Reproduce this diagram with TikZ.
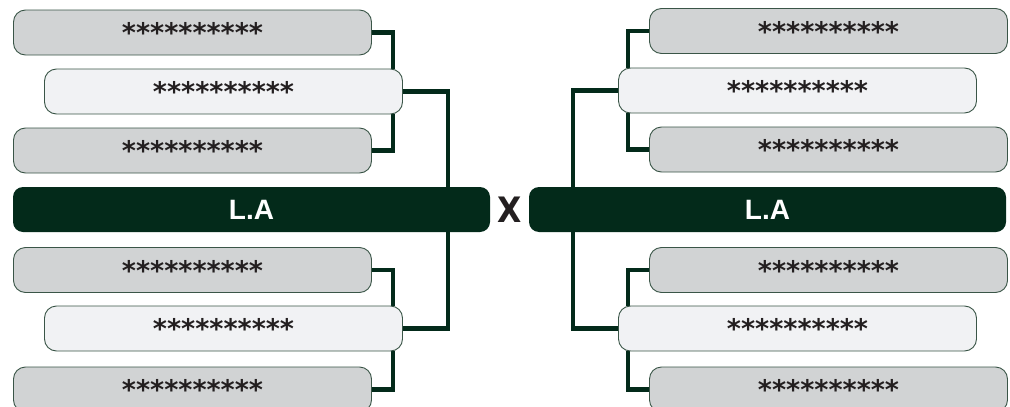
\documentclass[tikz,border=0pt]{standalone}
\usepackage{fontspec}
\usetikzlibrary{backgrounds}
\newfontfamily\starfont{DejaVu Sans}
\newfontfamily\labelfont{Liberation Sans}
\newfontfamily\vsfont{DejaVu Sans Condensed}
\definecolor{bardark}{HTML}{032A1A}
\definecolor{boxgray}{HTML}{D1D3D4}
\definecolor{boxlight}{HTML}{F1F2F4}
\definecolor{boxline}{HTML}{3A5547}
\definecolor{startext}{HTML}{231F20}

\begin{document}
\begin{tikzpicture}[x=1pt,y=-1pt,
  slot/.style={draw=boxline,line width=0.9pt,rounded corners=12pt,
    minimum width=358pt,minimum height=45pt,inner sep=0pt,
    text=startext,font=\starfont\bfseries\fontsize{27}{27}\selectfont},
  gbox/.style={slot,fill=boxgray},
  lbox/.style={slot,fill=boxlight},
  bar/.style={fill=bardark,rounded corners=10pt,minimum width=477pt,
    minimum height=45pt,inner sep=0pt,text=white,
    font=\labelfont\bfseries\fontsize{28}{28}\selectfont},
  link/.style={draw=bardark,line width=4.5pt}]
\useasboundingbox (0,0) rectangle (1010,407);
% Left bracket.
\node[gbox] (lu1) at (192.5,32.5) {**********};
\node[lbox] (lu2) at (223.5,91.5) {**********};
\node[gbox] (lu3) at (192.5,150.5) {**********};
\node[bar] (lbar) at (251.5,209.5) {L.A};
\node[gbox] (ll1) at (192.5,270) {**********};
\node[lbox] (ll2) at (223.5,328.5) {**********};
\node[gbox] (ll3) at (192.5,389.5) {**********};
% Right bracket.
\node[gbox] (ru1) at (828.5,31) {**********};
\node[lbox] (ru2) at (797.5,90.5) {**********};
\node[gbox] (ru3) at (828.5,149.5) {**********};
\node[bar] (rbar) at (767.5,209.5) {L.A};
\node[gbox] (rl1) at (828.5,270) {**********};
\node[lbox] (rl2) at (797.5,328.5) {**********};
\node[gbox] (rl3) at (828.5,389.5) {**********};
\node[font=\vsfont\bfseries\fontsize{35}{35}\selectfont,text=startext] (vs) at (509.5,210) {X};
\begin{scope}[on background layer]
\draw[link] (lu1.east) -| ([xshift=-10pt]lu2.north east);
\draw[link] (lu3.east) -| ([xshift=-10pt]lu2.south east);
\draw[link] (lu2.east) -| ([xshift=-42pt]lbar.north east);
\draw[link] (ll1.east) -| ([xshift=-10pt]ll2.north east);
\draw[link] (ll3.east) -| ([xshift=-10pt]ll2.south east);
\draw[link] (ll2.east) -| ([xshift=-42pt]lbar.south east);
\draw[link] (ru1.west) -| ([xshift=10pt]ru2.north west);
\draw[link] (ru3.west) -| ([xshift=10pt]ru2.south west);
\draw[link] (ru2.west) -| ([xshift=44pt]rbar.north west);
\draw[link] (rl1.west) -| ([xshift=10pt]rl2.north west);
\draw[link] (rl3.west) -| ([xshift=10pt]rl2.south west);
\draw[link] (rl2.west) -| ([xshift=44pt]rbar.south west);
\end{scope}
\end{tikzpicture}
\end{document}
